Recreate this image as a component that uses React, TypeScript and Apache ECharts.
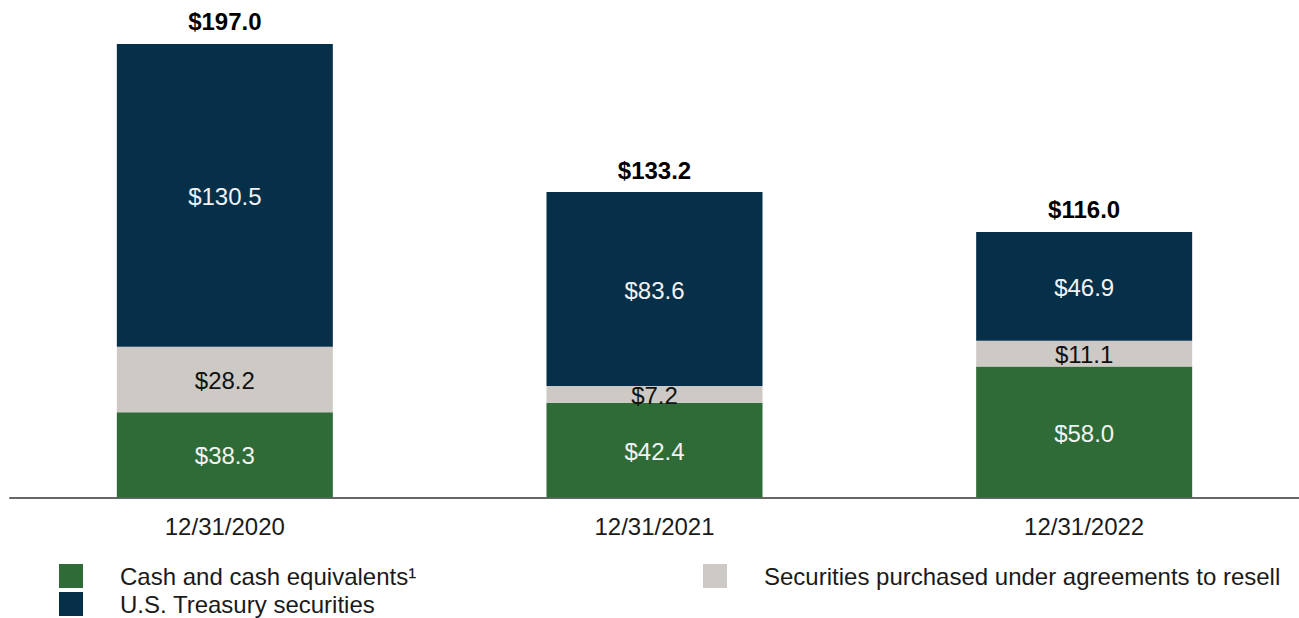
import React, { useEffect, useRef } from "react";
import * as echarts from "echarts";

const categories = ["12/31/2020", "12/31/2021", "12/31/2022"];
const cashValues = [38.3, 42.4, 58.0];
const resaleValues = [28.2, 7.2, 11.1];
const treasuryValues = [130.5, 83.6, 46.9];
const totalValues = [197.0, 133.2, 116.0];

const seriesNames = {
  cash: "Cash and cash equivalents\u00b9",
  treasury: "U.S. Treasury securities",
  resale: "Securities purchased under agreements to resell",
};

const FONT = "'Liberation Sans', Arial, sans-serif";
const GREEN = "#2e6b37";
const NAVY = "#062f4a";
const GRAY = "#cdc9c4";

export default function App() {
  const ref = useRef<HTMLDivElement>(null);
  useEffect(() => {
    document.body.style.margin = "0";
    const chart = echarts.init(ref.current!, null, { renderer: "svg" });
    const fmt = (p: any) => "$" + Number(p.value).toFixed(1);
    const inLabel = (color: string) => ({
      show: true,
      position: "inside",
      offset: [0, 1],
      color,
      fontSize: 24,
      fontFamily: FONT,
      formatter: fmt,
    });
    const legendText = {
      color: "#1a1a1a",
      fontSize: 24,
      fontFamily: FONT,
      padding: [0, 0, 0, 32],
    };
    const legendItem = (name: string, left: number, top: number) => ({
      left,
      top,
      itemWidth: 24,
      itemHeight: 24,
      icon: "rect",
      selectedMode: false,
      textStyle: legendText,
      data: [name],
    });
    chart.setOption({
      animation: false,
      textStyle: { fontFamily: FONT },
      grid: { left: 10, right: -1, top: 37, bottom: 120.5 },
      legend: [
        legendItem(seriesNames.cash, 54, 559),
        legendItem(seriesNames.treasury, 54, 587),
        legendItem(seriesNames.resale, 698, 559),
      ],
      xAxis: {
        type: "category",
        data: categories,
        axisLine: { onZero: false, lineStyle: { color: "#666666", width: 2 } },
        axisTick: { alignWithLabel: true, length: 10, lineStyle: { color: "#a0a0a0", width: 2 } },
        axisLabel: { color: "#1a1a1a", fontSize: 24, fontFamily: FONT, margin: 17 },
      },
      yAxis: {
        type: "value",
        min: 1.6,
        max: 200,
        show: false,
        splitLine: { show: false },
      },
      series: [
        {
          name: seriesNames.cash,
          type: "bar",
          stack: "total",
          barWidth: 216,
          clip: true,
          data: cashValues,
          itemStyle: { color: GREEN },
          label: inLabel("#f2f2f2"),
        },
        {
          name: seriesNames.resale,
          type: "bar",
          stack: "total",
          barWidth: 216,
          clip: true,
          data: resaleValues,
          itemStyle: { color: GRAY },
          label: inLabel("#111111"),
        },
        {
          name: seriesNames.treasury,
          type: "bar",
          stack: "total",
          barWidth: 216,
          clip: true,
          data: treasuryValues,
          itemStyle: { color: NAVY },
          label: inLabel("#f2f2f2"),
        },
        {
          name: "Total",
          type: "bar",
          stack: "total",
          barWidth: 216,
          data: totalValues.map(() => 0),
          itemStyle: { color: "transparent" },
          silent: true,
          label: {
            show: true,
            position: "top",
            distance: 10,
            color: "#000000",
            fontSize: 24,
            fontWeight: "bold",
            fontFamily: FONT,
            formatter: (p: any) => "$" + totalValues[p.dataIndex].toFixed(1),
          },
        },
      ],
    });
    return () => chart.dispose();
  }, []);
  return <div ref={ref} style={{ width: 1299, height: 618 }} />;
}
